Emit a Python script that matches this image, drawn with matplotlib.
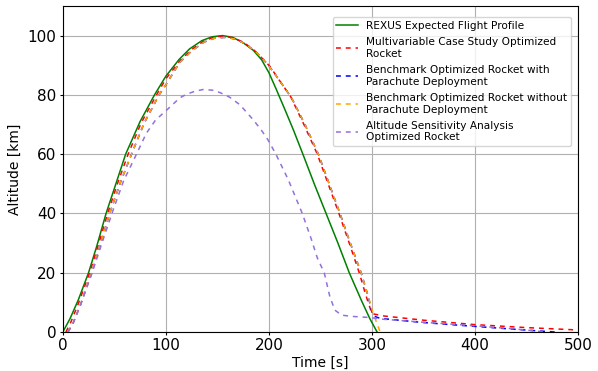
import matplotlib
matplotlib.use('Agg')
import matplotlib.pyplot as plt

# REXUS expected flight profile
rexus_t = [0, 7, 15, 25, 33, 42, 52, 61, 75, 89, 100, 113, 123, 135, 145, 155, 165, 175, 185,
           193, 200, 207, 215, 224, 233, 244, 255.5, 267, 278, 290, 298, 305]
rexus_alt = [0, 4.5, 10.8, 20, 29, 40, 50.5, 60, 71, 80, 86.3, 92, 95.5, 98.3, 99.6, 100, 99.4, 97.6, 95,
             91.8, 87.5, 82, 75.5, 68, 60, 50, 40, 30, 20, 10.5, 4.5, 0]

# Multivariable case study optimized rocket
multi_t = [3, 8, 15, 26, 35, 43.5, 53, 63.4, 76, 91, 100, 113.6, 125, 137, 147, 155, 165, 175, 185,
           195, 201, 210, 221, 234, 247, 257.5, 268, 278, 287.7, 294, 300, 312, 350, 400, 450, 500]
multi_alt = [0, 3.5, 9.5, 20, 30, 40, 50, 60, 70.5, 80, 85.4, 91.5, 95.3, 98.2, 99.5, 99.8, 99.3, 97.8, 95.3,
             91.8, 89.6, 85, 79.5, 70, 60, 50, 40, 30, 20, 12.5, 6.2, 5.4, 4.0, 2.5, 1.5, 0.7]

# Benchmark optimized rocket without parachute
nochute_t = [5, 10, 17, 28, 37, 45.5, 56, 66.7, 79, 93.5, 100, 113.6, 125, 137, 148, 158, 168, 178, 188,
             197, 203, 212, 222, 235, 248, 258.5, 269, 279, 289.5, 296, 301, 308]
nochute_alt = [0, 3, 9, 20, 30, 40, 50.5, 60, 70.5, 80, 83.4, 91, 94.8, 97.8, 99.2, 99.4, 98.8, 97, 94.3,
               91, 88.4, 84, 79, 70, 60, 50, 40, 30, 20, 12.5, 6.5, 0]

# Benchmark optimized rocket with parachute (same ascent as without)
chute_t = nochute_t[:30] + [301, 308, 350, 400, 440, 478]
chute_alt = nochute_alt[:30] + [5.5, 4.6, 3.2, 1.9, 0.9, 0]

# Altitude sensitivity analysis optimized rocket
sens_t = [5, 10, 17, 28, 38, 48.9, 59, 71.5, 81, 90, 100.6, 113.6, 120, 128, 136, 145, 152.4, 162, 171.8,
          184.8, 192.9, 199, 206.8, 218.8, 232.4, 241.4, 247, 253.7, 259.2, 264, 270.6, 280, 298, 308,
          350, 400, 440, 469]
sens_alt = [0, 3, 9, 19.5, 30, 41.2, 51, 60, 67, 71.5, 74.8, 79, 80.2, 81.2, 81.8, 81.6, 80.8, 79.2, 76.7,
            71.6, 68, 64.9, 60, 51.4, 40, 31.1, 25, 20, 11.9, 7.4, 5.7, 5.3, 4.9, 4.4,
            3.3, 2.1, 1.0, 0]

dash = (0, (3.2, 3.2))

fig, ax = plt.subplots(figsize=(5.98, 3.71), dpi=100)
fig.subplots_adjust(left=0.105, right=0.9666, top=0.984, bottom=0.105)

ax.plot(rexus_t, rexus_alt, color='green', linewidth=1.1, label='REXUS Expected Flight Profile')
ax.plot(multi_t, multi_alt, color='red', linestyle=dash, linewidth=1.1,
        label='Multivariable Case Study Optimized\nRocket')
ax.plot(chute_t, chute_alt, color='blue', linestyle=dash, linewidth=1.1,
        label='Benchmark Optimized Rocket with\nParachute Deployment')
ax.plot(nochute_t, nochute_alt, color='orange', linestyle=dash, linewidth=1.1,
        label='Benchmark Optimized Rocket without\nParachute Deployment')
ax.plot(sens_t, sens_alt, color='mediumpurple', linestyle=dash, linewidth=1.1,
        label='Altitude Sensitivity Analysis\nOptimized Rocket')

ax.set_xlim(0, 500)
ax.set_ylim(0, 110)
ax.set_xlabel('Time [s]', fontsize=10, labelpad=2)
ax.set_ylabel('Altitude [km]', fontsize=10, labelpad=4)
ax.tick_params(labelsize=11, length=2.5, pad=2)
ax.grid(True)
ax.legend(loc='upper right', bbox_to_anchor=(0.986, 0.966), borderaxespad=0,
          fontsize=7.6, labelspacing=0.6, borderpad=0.35)

fig.savefig('out.png', dpi=100)
